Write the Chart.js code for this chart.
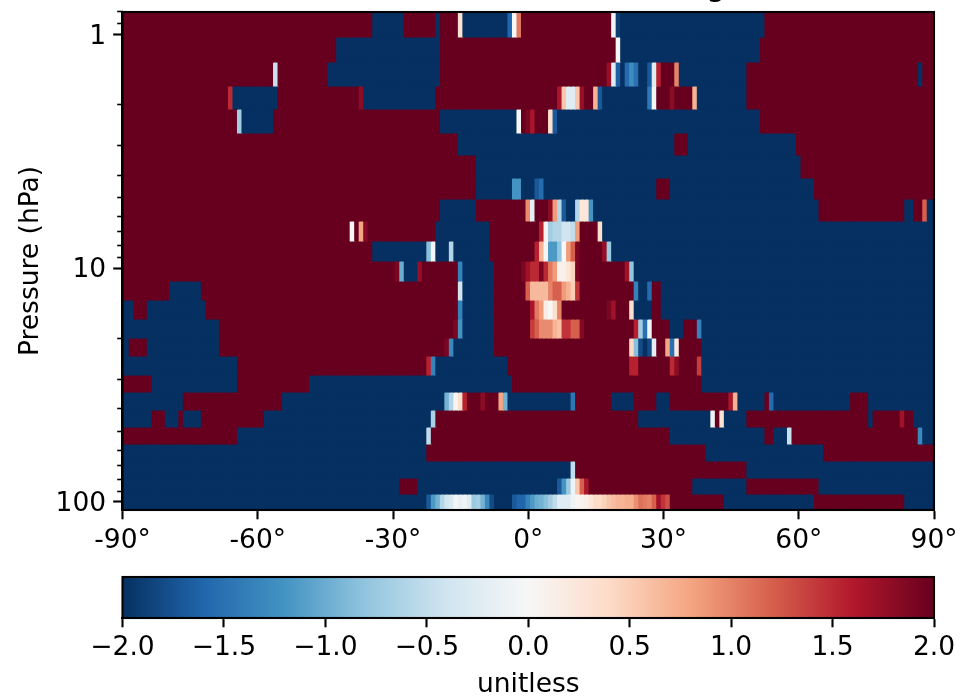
<!DOCTYPE html>
<html>
<head>
<meta charset="utf-8">
<script src="https://cdn.jsdelivr.net/npm/chart.js@4"></script>
<style>
html,body{margin:0;padding:0;background:#fff;width:974px;height:697px;overflow:hidden}
#wrapA{position:absolute;left:0;top:0;width:974px;height:560px}
#wrapB{position:absolute;left:0;top:560px;width:974px;height:137px}
</style>
</head>
<body>
<div id="wrapA"><canvas id="field"></canvas></div>
<div id="wrapB"><canvas id="bar"></canvas></div>
<script>
// Pressure edges of the grid rows (hPa), top to bottom
const levelEdges = [0.8028,1.027,1.3136,1.6638,2.086,2.6437,3.2827,4.118,5.063,6.289,7.656,9.325,11.354,13.69,16.50,19.90,23.76,28.66,33.88,40.45,47.82,56.54,66.84,79.03,92.50,108.3];
const xTickStep = 30;
const yMajorTicks = [1,10,100];
const yMinorTicks = [0.8,0.9,2,3,4,5,6,7,8,9,20,30,40,50,60,70,80,90];
const colorStops = ['#053061','#2166ac','#4393c3','#92c5de','#d1e5f0','#f7f7f7','#fddbc7','#f4a582','#d6604d','#b2182b','#67001f'];
const colorRange = [-2,2];

// Each row: [first latitude of a run, value]; a run lasts up to the next entry
const row01 = [[-90,2],[-34,-2],[-27,2],[-20,-2],[-19,2],[-15,0.3],[-14,-2],[-4,-1.6],[-3,0],[-2,1.05],[-1,2],[19,-0.1],[20,-1.9],[21,-2],[53,2]];
const row02 = [[-90,2],[-42,-2],[-19,2],[20,0],[21,-2],[52,2]];
const row03 = [[-90,2],[-56,-0.45],[-55,2],[-44,-2],[-19,2],[18,1.75],[19,-0.25],[20,-1.65],[21,-2],[22,-1.55],[23,-1.25],[24,-1.5],[25,-2],[27,-1.7],[28,-0.25],[29,1.55],[30,2],[33,1],[34,-2],[49,2],[87,-2],[88,2]];
const row04 = [[-90,2],[-66,1.5],[-65,-2],[-55,2],[-37,1.8],[-36,-2],[-20,2],[7,1.65],[8,0.55],[9,-0.25],[11,0.55],[12,1.75],[13,2],[15,0.7],[16,-1.7],[17,-2],[27,-1.45],[28,-0.05],[29,2],[32,1.8],[33,2],[37,0.7],[38,-2],[49,2]];
const row05 = [[-90,2],[-64,-0.7],[-63,-2],[-56,2],[-19,-2],[-2,0],[-1,2],[0,1.9],[1,1.65],[2,2],[5,0.35],[6,-1.7],[7,-2],[52,2]];
const row06 = [[-90,2],[-15,-2],[33,2],[36,-2],[60,2]];
const row07 = [[-90,2],[-11,-2],[61,2]];
const row08 = [[-90,2],[-11,-2],[-3,-1.2],[-1,-2],[2,-1.7],[3,-1.55],[4,-2],[29,2],[32,-2],[64,2]];
const row09 = [[-90,2],[-19,-2],[-11,2],[0,0.95],[1,-0.2],[2,2],[5,1.8],[6,0.85],[7,-0.6],[8,-1.7],[9,-2],[11,-0.6],[12,0.25],[14,-1.2],[15,-2],[65,2],[84,-2],[86,2],[88,1.2],[89,-2]];
const row10 = [[-90,2],[-39,0],[-38,2],[-37,0.8],[-36,1.85],[-35,2],[-20,-2],[-8,2],[3,1.55],[4,0.05],[5,-0.7],[6,-0.6],[8,-0.4],[10,-0.5],[11,0.85],[12,2],[16,0.35],[17,-2]];
const row11 = [[-90,2],[-34,-2],[-22,-0.85],[-21,-0.02],[-20,-2],[-17,-0.6],[-16,-2],[-8,2],[2,1.55],[3,0.7],[4,-0.05],[5,-1.15],[7,-0.8],[8,0],[9,0.85],[10,1.2],[11,1.9],[12,2],[17,1.75],[18,-0.75],[19,-2]];
const row12 = [[-90,2],[-29,1.9],[-28,-1],[-27,-2],[-24,1.75],[-23,2],[-15,-1.35],[-14,-2],[-7,2],[-1,1.9],[0,1.7],[1,1.5],[3,1.9],[4,1.5],[5,1.05],[6,0.85],[7,0.1],[9,0.25],[10,0.45],[11,1.9],[12,2],[22,1.7],[23,-0.8],[24,-2]];
const row13 = [[-90,2],[-79,-2],[-72,2],[-15,-0.4],[-14,-2],[-7,2],[0,1.2],[1,0.65],[5,1],[6,1.2],[8,0.85],[9,0.7],[10,0.5],[11,1.45],[12,2],[24,-1.35],[25,-2],[27,-1.55],[28,2],[30,-2]];
const row14 = [[-90,-2],[-87,2],[-84,-2],[-71,2],[-15,-1.35],[-14,-2],[-7,2],[1,1.65],[2,1.05],[3,0.85],[4,0.15],[5,0],[6,0.35],[7,1],[8,2],[18,1.9],[19,1.7],[20,2],[23,0.35],[24,-2],[28,2],[30,-2]];
const row15 = [[-90,-2],[-68,2],[-16,1.9],[-15,-1.2],[-14,-2],[-7,2],[1,1.4],[2,1.2],[3,0.95],[6,0.7],[7,0.6],[8,1.45],[10,1.2],[12,1.85],[13,2],[24,1.55],[25,-0.7],[26,-1.5],[27,-0.1],[28,2],[32,-2],[35,2],[38,-1.35],[39,-2]];
const row16 = [[-90,-2],[-88,2],[-84,-2],[-68,2],[-18,1.9],[-17,-1.3],[-16,-2],[-7,2],[23,0.4],[24,-0.85],[25,-1.8],[26,-2],[27,-1.8],[28,-0.2],[29,2],[31,0.8],[32,-1.5],[33,0.2],[34,2],[39,-2]];
const row17 = [[-90,-2],[-64,2],[-22,1.55],[-21,-1.35],[-20,-2],[-4,2],[23,1.55],[25,2],[32,1.5],[33,1.8],[34,2],[38,1.4],[39,-2]];
const row18 = [[-90,2],[-83,-2],[-64,2],[-48,-2],[-3,2],[39,-2]];
const row19 = [[-90,-2],[-76,2],[-54,-2],[-18,-0.95],[-17,-0.6],[-16,0.05],[-15,0.35],[-14,1.55],[-13,2],[-10,1.8],[-9,2],[-6,0.8],[-5,-0.95],[-4,-2],[10,-1.45],[11,2],[19,-2],[24,2],[29,-2],[32,2],[45,1.65],[46,0.7],[47,-2],[53,2],[54,-1.55],[55,-2],[72,2],[76,-2]];
const row20 = [[-90,-2],[-83,2],[-80,-2],[-77,2],[-76,-2],[-72,2],[-58,-2],[-21,-0.65],[-20,2],[25,-2],[41,-0.1],[42,2],[43,0.3],[44,-2],[49,2],[76,-2],[77,2],[83,1.7],[84,2],[86,-2]];
const row21 = [[-90,2],[-64,-2],[-22,-0.5],[-21,2],[32,-2],[53,2],[55,-2],[58,-0.45],[59,2],[87,-1.3],[88,-2]];
const row22 = [[-90,-2],[-22,2],[40,-2],[66,2]];
const row23 = [[-90,-2],[10,-0.5],[11,2],[49,-2]];
const row24 = [[-90,-2],[-28,2],[-24,-2],[7,-1.7],[8,-1.2],[9,-0.75],[10,-0.1],[11,0.55],[12,1.2],[13,1.65],[14,2],[37,-2],[49,2],[65,-2]];
const row25 = [[-90,-2],[-22,-1.7],[-21,-1.15],[-20,-0.95],[-19,-0.6],[-18,-0.4],[-17,-0.3],[-16,-0.05],[-15,-0.15],[-14,-0.1],[-13,-0.25],[-12,-0.75],[-11,-0.7],[-10,-0.95],[-9,-1.3],[-8,-1.8],[-7,-2],[-3,-1.7],[-2,-1.6],[0,-1.35],[1,-1.15],[2,-1],[3,-0.95],[4,-0.85],[5,-0.7],[6,-0.5],[7,-0.25],[10,-0.1],[11,0.05],[12,0.07],[13,0.12],[14,0.25],[15,0.4],[17,0.47],[18,0.57],[19,0.62],[20,0.68],[22,0.73],[24,0.93],[25,1.1],[26,1.05],[27,1],[28,1.2],[29,1.7],[30,1.45],[31,1.3],[32,2],[44,-2],[64,2],[84,-2]];
const rows = [row01,row02,row03,row04,row05,row06,row07,row08,row09,row10,row11,row12,row13,row14,row15,row16,row17,row18,row19,row20,row21,row22,row23,row24,row25];

const FONT = "'DejaVu Sans'";
const FS = 26.5;
const MAJ = 9.3, MIN = 5.3, LW = 2.1, LWm = 1.6;

function hexRgb(h){return [1,3,5].map(i=>parseInt(h.slice(i,i+2),16));}
const stopRgb = colorStops.map(hexRgb);
function cmap(v){
  const t = Math.max(0,Math.min(1,(v-colorRange[0])/(colorRange[1]-colorRange[0])))*(stopRgb.length-1);
  const i = Math.min(stopRgb.length-2,Math.floor(t)), f = t-i;
  const c = stopRgb[i].map((a,k)=>Math.round(a+(stopRgb[i+1][k]-a)*f));
  return `rgb(${c[0]},${c[1]},${c[2]})`;
}

function expandRow(runs,idx){
  const data=[], colors=[];
  runs.forEach((r,k)=>{
    const end = k+1<runs.length ? runs[k+1][0] : 91;
    for(let lat=r[0];lat<end;lat++){
      data.push({x:lat,y:[levelEdges[idx],levelEdges[idx+1]]});
      colors.push(cmap(r[1]));
    }
  });
  return {data,backgroundColor:colors,borderWidth:0,inflateAmount:0.5,grouped:false,barPercentage:1,categoryPercentage:1};
}

const frame = {
  id:'frame',
  afterDatasetsDraw(c){
    const a=c.chartArea, x=c.ctx;
    x.save();x.strokeStyle='#000';x.lineWidth=LW;
    x.strokeRect(a.left,a.top,a.right-a.left,a.bottom-a.top);
    x.restore();
  }
};
const clippedTitle = {
  id:'clippedTitle',
  afterDraw(c){
    const x=c.ctx;
    x.save();x.fillStyle='#000';x.font=`31.8px ${FONT}`;x.textAlign='center';x.textBaseline='alphabetic';
    x.fillText('g',716,-5);
    x.restore();
  }
};

Chart.defaults.font.family = FONT;
Chart.defaults.color = '#000';
Chart.defaults.animation = false;

const noVPad = s=>{s.paddingTop=0;s.paddingBottom=0;};
const noHPad = s=>{s.paddingLeft=0;s.paddingRight=0;};

new Chart(document.getElementById('field'),{
  type:'bar',
  data:{datasets:rows.map(expandRow)},
  plugins:[frame,clippedTitle],
  options:{
    responsive:true,maintainAspectRatio:false,devicePixelRatio:1,animation:false,
    events:[],
    layout:{padding:{left:0,top:12,right:40,bottom:0}},
    plugins:{legend:{display:false},tooltip:{enabled:false},title:{display:false}},
    scales:{
      x:{
        type:'linear',min:-90,max:90,offset:false,
        grid:{offset:false,drawOnChartArea:false,tickLength:MAJ,tickWidth:LW,tickColor:'#000'},
        border:{color:'#000',width:LW},
        ticks:{stepSize:xTickStep,autoSkip:false,maxRotation:0,minRotation:0,padding:5.5,font:{size:FS},
          callback:v=>v+'°'},
        afterFit:s=>{s.height=50;noHPad(s);}
      },
      y:{
        type:'logarithmic',reverse:true,min:levelEdges[0],max:108.3,offset:false,
        grid:{offset:false,drawOnChartArea:false,tickLength:MAJ,tickWidth:LW,tickColor:'#000'},
        border:{color:'#000',width:LW},
        afterBuildTicks:s=>{s.ticks=yMajorTicks.map(v=>({value:v,major:true}));},
        ticks:{autoSkip:false,padding:7,labelOffset:2.5,font:{size:FS},callback:v=>String(v)},
        title:{display:true,text:'Pressure (hPa)',font:{size:FS},padding:{top:15,bottom:0}},
        afterFit:s=>{s.width=122.5;noVPad(s);}
      },
      yMinor:{
        type:'logarithmic',position:'left',reverse:true,min:levelEdges[0],max:108.3,offset:false,weight:-1,
        grid:{offset:false,drawOnChartArea:false,tickLength:MIN,tickWidth:LWm,tickColor:'#000'},
        border:{display:false},
        afterBuildTicks:s=>{s.ticks=yMinorTicks.map(v=>({value:v}));},
        ticks:{display:false,autoSkip:false},
        afterFit:s=>{s.width=0;noVPad(s);}
      }
    }
  }
});

new Chart(document.getElementById('bar'),{
  type:'bar',
  data:{datasets:[{
    data:[{x:[colorRange[0],colorRange[1]],y:'c'}],
    backgroundColor:(ctx)=>{
      const a=ctx.chart.chartArea;
      if(!a) return colorStops[0];
      const g=ctx.chart.ctx.createLinearGradient(a.left,0,a.right,0);
      colorStops.forEach((c,i)=>g.addColorStop(i/(colorStops.length-1),c));
      return g;
    },
    borderWidth:0,barPercentage:1,categoryPercentage:1
  }]},
  plugins:[frame],
  options:{
    indexAxis:'y',responsive:true,maintainAspectRatio:false,devicePixelRatio:1,animation:false,
    events:[],
    layout:{padding:{left:122.5,top:17,right:40,bottom:0}},
    plugins:{legend:{display:false},tooltip:{enabled:false}},
    scales:{
      y:{type:'category',labels:['c'],display:false,offset:true,grid:{display:false}},
      x:{
        type:'linear',min:colorRange[0],max:colorRange[1],
        grid:{drawOnChartArea:false,tickLength:MAJ,tickWidth:LW,tickColor:'#000'},
        border:{color:'#000',width:LW},
        ticks:{stepSize:0.5,autoSkip:false,maxRotation:0,minRotation:0,padding:5,font:{size:FS},
          callback:v=>v.toFixed(1).replace('-','\u2212')},
        title:{display:true,text:'unitless',font:{size:FS},padding:{top:0,bottom:-4}},
        afterFit:s=>{s.height=79;noHPad(s);}
      }
    }
  }
});
</script>
</body>
</html>
